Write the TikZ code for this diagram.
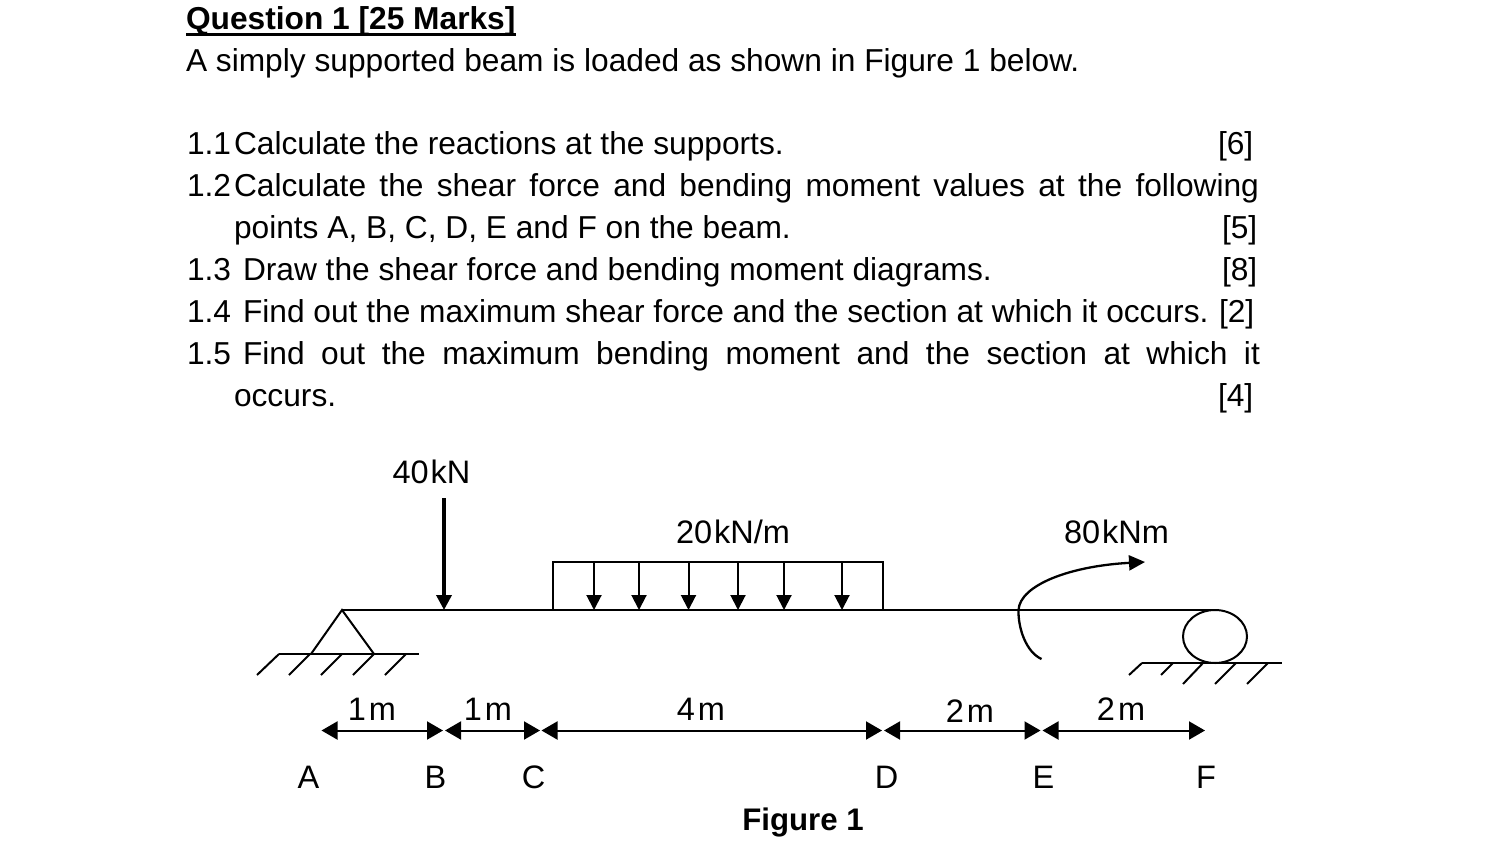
\documentclass[tikz,border=0pt]{standalone}
\usepackage{fontspec}
\setmainfont{Liberation Sans}
\usetikzlibrary{arrows.meta,shapes.geometric}
\tikzset{
  txt/.style={inner sep=0pt,outer sep=0pt,anchor=base west,font=\fontsize{31.7}{38}\selectfont},
  lab/.style={inner sep=0pt,outer sep=0pt,anchor=base,font=\fontsize{32.5}{39}\selectfont},
  ln/.style={line width=2pt,black},
  hat/.style={line width=2pt,black},
  pointload/.style={line width=3.5pt,-{Triangle[length=15pt,width=15pt]}},
  udl/.style={line width=2pt,-{Triangle[length=15pt,width=15pt]}},
  dim/.style={line width=2pt,{Triangle[length=16pt,width=18pt]}-{Triangle[length=16pt,width=18pt]}},
}
\newcommand{\jl}[2]{\makebox[#1pt][s]{#2}}
\begin{document}
\begin{tikzpicture}[x=1pt,y=-1pt]
\useasboundingbox (0,0) rectangle (1488,862);
% text block
\node[txt,font=\fontsize{31.7}{38}\selectfont\bfseries] (title) at (186,29.5) {Question 1 [25 Marks]};
\draw[line width=2.5pt] (186,34.5) -- (516,34.5);
\node[txt] (intro) at (186,71.5) {A simply supported beam is loaded as shown in Figure 1 below.};
\node[txt] (n1) at (187,154.5) {1.1};
\node[txt] (q1) at (234,154.5) {Calculate the reactions at the supports.};
\node[txt] (m1) at (1218,154.5) {[6]};
\node[txt] (n2) at (187,196.5) {1.2};
\node[txt] (q2) at (234,196.5) {\jl{1025}{Calculate the shear force and bending moment values at the following}};
\node[txt] (q2b) at (234,238.5) {points A, B, C, D, E and F on the beam.};
\node[txt] (m2) at (1222,238.5) {[5]};
\node[txt] (n3) at (187,280.5) {1.3};
\node[txt] (q3) at (243,280.5) {Draw the shear force and bending moment diagrams.};
\node[txt] (m3) at (1222,280.5) {[8]};
\node[txt] (n4) at (187,322.5) {1.4};
\node[txt] (q4) at (243,322.5) {Find out the maximum shear force and the section at which it occurs.};
\node[txt] (m4) at (1219,322.5) {[2]};
\node[txt] (n5) at (187,364.5) {1.5};
\node[txt] (q5) at (243,364.5) {\jl{1017}{Find out the maximum bending moment and the section at which it}};
\node[txt] (q5b) at (234,406.5) {occurs.};
\node[txt] (m5) at (1218,406.5) {[4]};
% load labels
\node[lab] (l40) at (431.5,483) {40\kern2pt kN};
\node[lab] (l20) at (733,543.5) {20\kern2pt kN/m};
\node[lab] (l80) at (1116.5,543.5) {80\kern2pt kNm};
% beam and supports
\coordinate (apex) at (342,610);
\node[draw,ellipse,line width=2pt,inner sep=0pt,outer sep=0pt,minimum width=64pt,minimum height=53pt] (roller) at (1215,636.5) {};
\draw[ln] (apex) -- (roller.north);
\coordinate (tl) at (311,654);
\coordinate (tr) at (374,654);
\draw[ln,line join=miter] (tl) -- (apex) -- (tr);
\draw[hat] (279,654) -- (419,654);
\foreach \a/\b in {279/257,310/289,342/321,374/353,406/385}
  \draw[hat] (\a,654) -- (\b,675);
\draw[hat] (1142,663) -- (1282,663);
\draw[hat] (1142,663) -- (1129,675);
\draw[hat] (1173,663) -- (1161,675);
\draw[hat] (1203,663) -- (1183,684);
\draw[hat] (1236,663) -- (1215,684);
\draw[hat] (1268,663) -- (1247,684);
% point load
\coordinate (p0) at (444,498);
\coordinate (p1) at (444,610);
\draw[pointload] (p0) -- (p1);
% distributed load
\coordinate (u1) at (552.5,610);
\coordinate (u2) at (552.5,562);
\coordinate (u3) at (883,562);
\coordinate (u4) at (883,610);
\draw[ln] (u1) -- (u2) -- (u3) -- (u4);
\foreach \x in {594,639,688.5,738,784,842}
  \draw[udl] (\x,562) -- (\x,610);
% moment
\coordinate (ms) at (1041.5,659);
\coordinate (mm) at (1018.5,610);
\coordinate (me) at (1145,562);
\draw[line width=2.3pt,-{Triangle[length=16pt,width=15pt]}] (ms) .. controls (1026,652) and (1018,628) .. (mm) .. controls (1020,585) and (1070,566) .. (me);
% dimensions
\coordinate (d1) at (321.5,730.5);
\coordinate (d2) at (443,730.5);
\coordinate (d3) at (445,730.5);
\coordinate (d4) at (540,730.5);
\coordinate (d5) at (541.5,730.5);
\coordinate (d6) at (882,730.5);
\coordinate (d7) at (884,730.5);
\coordinate (d8) at (1040.5,730.5);
\coordinate (d9) at (1042.5,730.5);
\coordinate (d10) at (1205,730.5);
\draw[dim] (d1) -- (d2);
\draw[dim] (d3) -- (d4);
\draw[dim] (d5) -- (d6);
\draw[dim] (d7) -- (d8);
\draw[dim] (d9) -- (d10);
\node[lab] (s1) at (372,720.5) {1\kern3pt m};
\node[lab] (s2) at (488,720.5) {1\kern3pt m};
\node[lab] (s3) at (701,720.5) {4\kern3pt m};
\node[lab] (s4) at (970,722) {2\kern3pt m};
\node[lab] (s5) at (1121,720.5) {2\kern3pt m};
\node[lab] (A) at (308.5,788) {A};
\node[lab] (B) at (435.5,788) {B};
\node[lab] (C) at (533.5,788) {C};
\node[lab] (D) at (886.5,788) {D};
\node[lab] (E) at (1043.5,788) {E};
\node[lab] (F) at (1206,788) {F};
\node[lab,font=\fontsize{31.2}{38}\selectfont\bfseries] (fig) at (803,830.5) {Figure 1};
\end{tikzpicture}
\end{document}
